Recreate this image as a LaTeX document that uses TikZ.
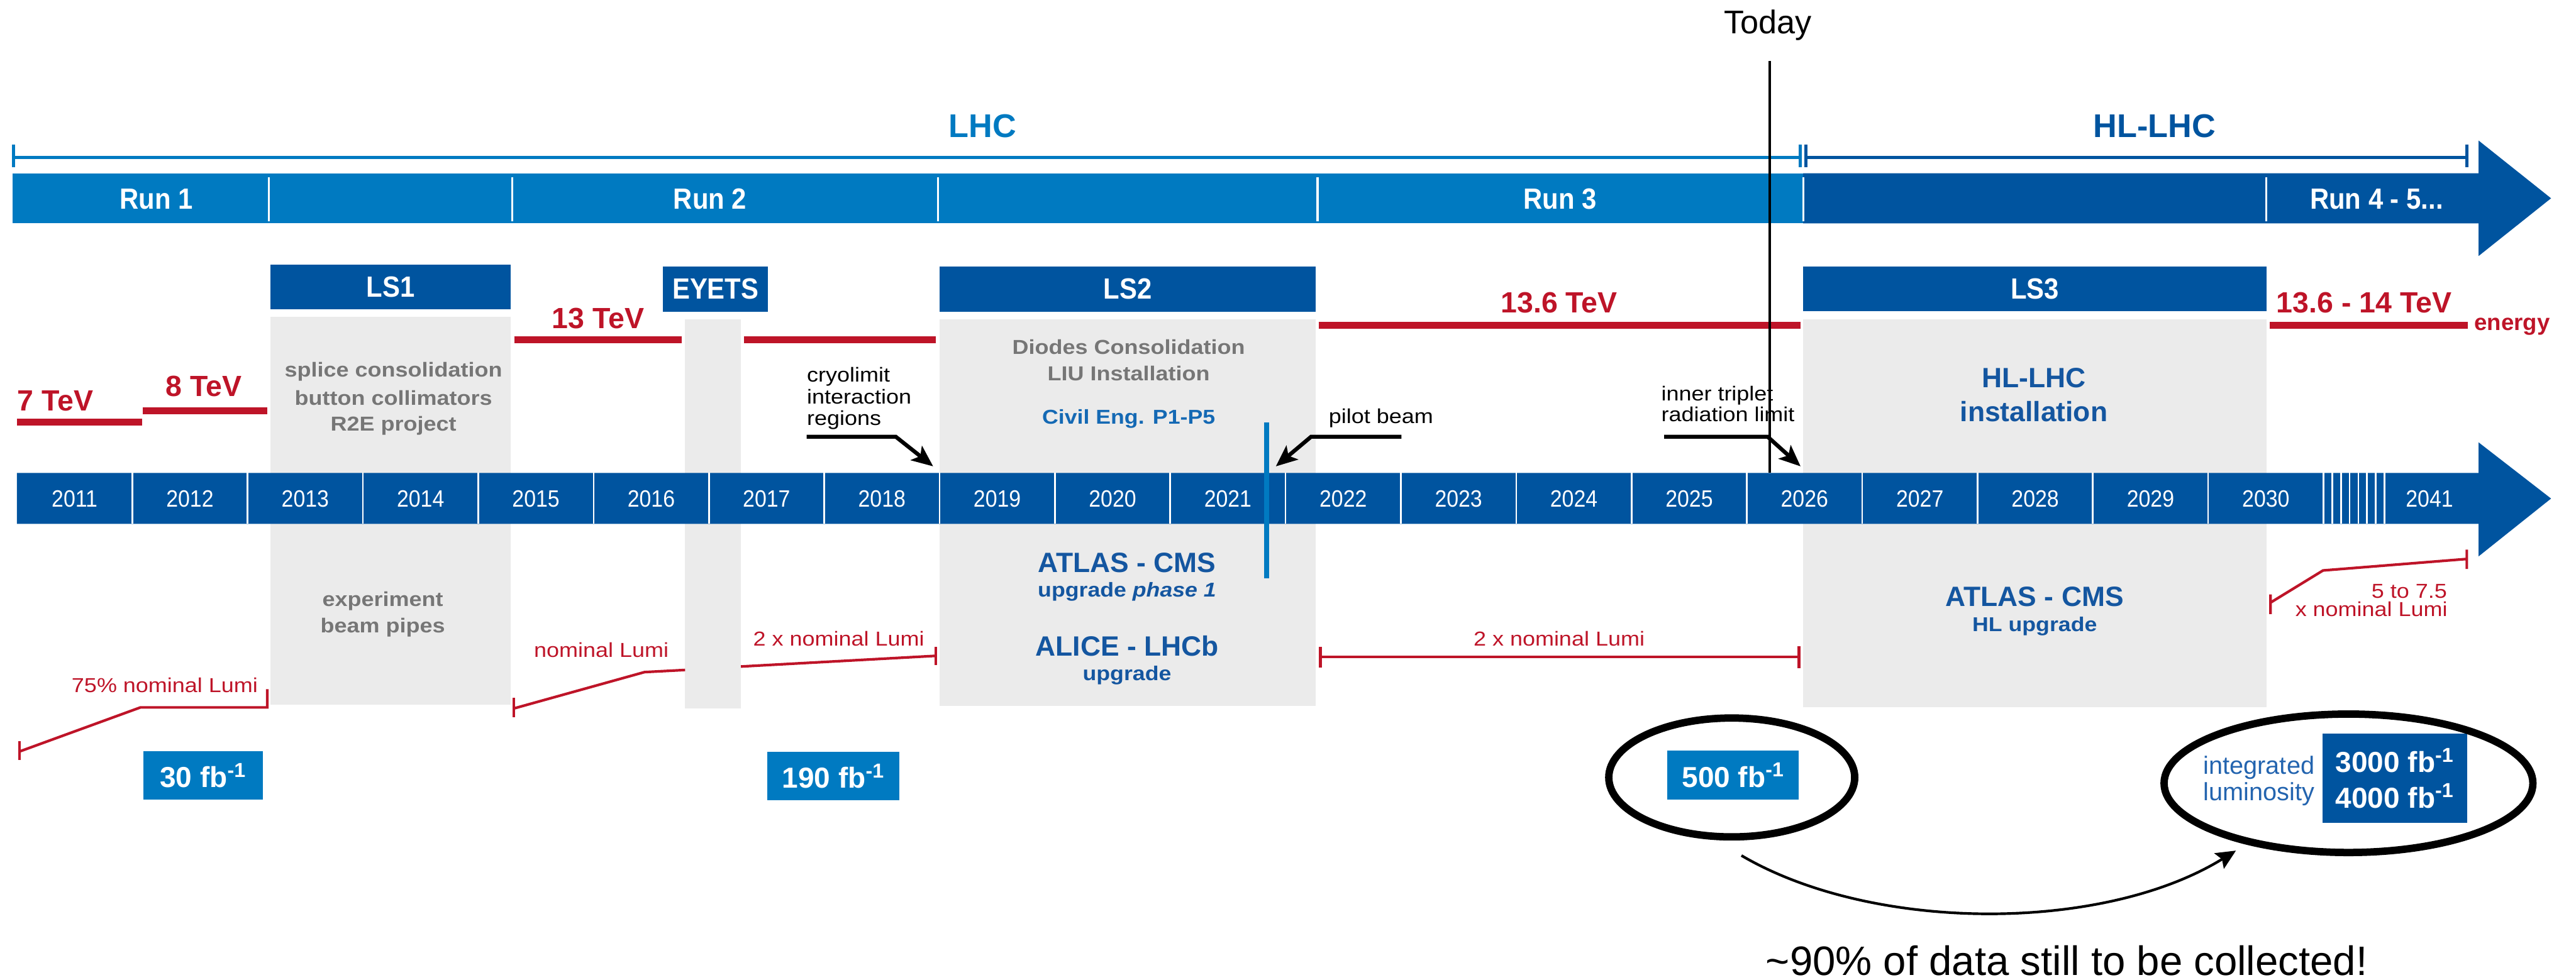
\documentclass[tikz,border=0pt]{standalone}
\usepackage{fontspec}
\setmainfont{Liberation Sans}
\newfontfamily\narrowsans[FakeStretch=0.9]{Liberation Sans}
\newfontfamily\widesans[FakeStretch=1.12]{Liberation Sans}
\usetikzlibrary{arrows.meta,shapes.geometric}
\definecolor{lhcblue}{RGB}{0,122,193}
\definecolor{hlblue}{RGB}{0,84,159}
\definecolor{lhcred}{RGB}{190,20,40}
\definecolor{lsgray}{RGB}{235,235,235}
\definecolor{notegray}{RGB}{118,118,118}
\definecolor{textblue}{RGB}{20,86,160}
\definecolor{civblue}{RGB}{20,105,180}
\definecolor{intblue}{RGB}{35,100,175}
\begin{document}
\begin{tikzpicture}[x=1pt,y=-1pt,
  lhclbl/.style={inner sep=0pt,anchor=base,font=\bfseries\fontsize{20}{24}\selectfont},
  runlbl/.style={text=white,inner sep=0pt,anchor=base,font=\narrowsans\bfseries\fontsize{17.8}{20}\selectfont},
  lsbox/.style={fill=hlblue,text=white,inner sep=0pt,font=\narrowsans\bfseries\fontsize{17.8}{20}\selectfont},
  lsarea/.style={fill=lsgray},
  yearlbl/.style={text=white,inner sep=0pt,anchor=base,font=\narrowsans\fontsize{14.4}{16}\selectfont},
  yeartick/.style={white,line width=1pt},
  tevline/.style={lhcred,line width=4.2pt},
  tevlbl/.style={text=lhcred,inner sep=0pt,anchor=base,font=\bfseries\fontsize{17.8}{20}\selectfont},
  lumiline/.style={lhcred,line width=1.6pt},
  lumilbl/.style={text=lhcred,inner sep=0pt,anchor=base,font=\widesans\fontsize{12.3}{14}\selectfont},
  notelbl/.style={text=notegray,inner sep=0pt,anchor=base,font=\widesans\bfseries\fontsize{12.3}{14}\selectfont},
  exptitle/.style={text=textblue,inner sep=0pt,anchor=base,font=\bfseries\fontsize{17}{20}\selectfont},
  expsub/.style={text=textblue,inner sep=0pt,anchor=base,font=\widesans\bfseries\fontsize{12.2}{14}\selectfont},
  remarklbl/.style={inner sep=0pt,anchor=base west,font=\widesans\fontsize{12.3}{14}\selectfont},
  intlbl/.style={text=intblue,inner sep=0pt,anchor=base,font=\fontsize{15.2}{17}\selectfont},
  leaderarrow/.style={line width=2.4pt,-{Stealth[length=13pt,width=11pt,inset=3pt]}},
  fbbox/.style={fill=lhcblue,text=white,inner sep=0pt,align=center,font=\bfseries\fontsize{17.6}{21.7}\selectfont},
  ringmark/.style={ellipse,draw,line width=4.5pt,inner sep=0pt},
  gainarrow/.style={line width=1.6pt,-{Stealth[length=12pt,width=11pt,inset=2pt]}}]
% LHC / HL-LHC schedule, 1pt per unit, y runs downwards
\def\invfb{fb\textsuperscript{-1}}
\useasboundingbox (0,0) rectangle (1568,596.5);
% machine brackets
\draw[lhcblue,line width=2pt] (8.2,88) -- (8.2,102) (8.2,95.8) -- (1095.9,95.8)
 (1095.9,88) -- (1095.9,102);
\draw[hlblue,line width=2pt] (1099.2,88) -- (1099.2,102) (1099.2,95.8) -- (1501.5,95.8)
 (1501.5,88) -- (1501.5,102);
\node[lhclbl,text=lhcblue] (lhc) at (598,83.5) {LHC};
\node[lhclbl,text=hlblue] (hllhc) at (1311.5,83.5) {HL-LHC};
% runs
\fill[lhcblue] (7.6,105.5) rectangle (1097.6,136);
\fill[hlblue] (1097.6,105.5) -- (1508.7,105.5) -- (1508.7,85.6) -- (1552.8,120.75)
 -- (1508.7,155.9) -- (1508.7,136) -- (1097.6,136) -- cycle;
\draw[white,line width=1.2pt] (163.6,107.8) -- (163.6,134.7) (311.8,107.8) -- (311.8,134.7)
 (571,107.8) -- (571,134.7) (802,107.8) -- (802,134.7)
 (1097.6,107.8) -- (1097.6,134.7) (1379.5,107.8) -- (1379.5,134.7);
\node[runlbl] (runone) at (95.1,127.3) {Run 1};
\node[runlbl] (runtwo) at (432.2,127.3) {Run 2};
\node[runlbl] (runthree) at (949.7,127.3) {Run 3};
\node[runlbl] (runfour) at (1446.6,127.3) {Run 4 - 5...};
% shutdowns
\fill[lsarea] (164.7,193) rectangle (311,429);
\fill[lsarea] (417,194.6) rectangle (451,431.4);
\fill[lsarea] (572,194.6) rectangle (801,430);
\fill[lsarea] (1097.6,194.6) rectangle (1379.5,430.8);
\node[lsbox,minimum width=146.3pt,minimum height=27.2pt] (lsone) at (237.85,174.6) {LS1};
\node[lsbox,minimum width=63.9pt,minimum height=27.3pt] (eyets) at (435.55,176.05) {EYETS};
\node[lsbox,minimum width=229pt,minimum height=27.3pt] (lstwo) at (686.5,176.05) {LS2};
\node[lsbox,minimum width=281.9pt,minimum height=27pt] (lsthree) at (1238.55,175.9) {LS3};
% energy
\draw[tevline] (10.3,257) -- (86.6,257);
\draw[tevline] (87,250) -- (162.6,250);
\draw[tevline] (313,207) -- (415,207);
\draw[tevline] (453,207) -- (569.6,207);
\draw[tevline] (802.6,198) -- (1096,198);
\draw[tevline] (1381.6,198) -- (1502,198);
\node[tevlbl,anchor=base west] (tevseven) at (10.3,250.3) {7 TeV};
\node[tevlbl] (teveight) at (124.1,241.4) {8 TeV};
\node[tevlbl] (tevthirteen) at (364,200.2) {13 TeV};
\node[tevlbl] (tevrunthree) at (949,190.3) {13.6 TeV};
\node[tevlbl] (tevhl) at (1439,190.3) {13.6 - 14 TeV};
\node[tevlbl,anchor=base west,font=\bfseries\fontsize{14}{16}\selectfont] (energy) at (1506,201) {energy};
% work in the shutdowns
\node[notelbl] (lsonea) at (239.5,229.5) {splice consolidation};
\node[notelbl] (lsoneb) at (239.5,246.9) {button collimators};
\node[notelbl] (lsonec) at (239.5,262.5) {R2E project};
\node[notelbl] (lsoned) at (233,369.2) {experiment};
\node[notelbl] (lsonee) at (233,385.4) {beam pipes};
\node[notelbl] (lstwoa) at (687,215.7) {Diodes Consolidation};
\node[notelbl] (lstwob) at (687,231.9) {LIU Installation};
\node[expsub,text=civblue] (lstwoc) at (687,258.1) {Civil Eng. P1-P5};
\node[exptitle] (lstwoatlas) at (686,348.7) {ATLAS - CMS};
\node[expsub] (lstwoatlassub) at (686,363.5) {upgrade \textit{phase 1}};
\node[exptitle] (lstwoalice) at (686,399.6) {ALICE - LHCb};
\node[expsub] (lstwoalicesub) at (686,414.5) {upgrade};
\node[exptitle] (lsthreehl) at (1238,236) {HL-LHC};
\node[exptitle] (lsthreeinst) at (1238,256.7) {installation};
\node[exptitle] (lsthreeatlas) at (1238.5,369.2) {ATLAS - CMS};
\node[expsub] (lsthreeatlassub) at (1238.5,384.7) {HL upgrade};
% luminosity
\draw[lumiline] (12,451.4) -- (12,463);
\draw[lumiline] (12,457.6) -- (85.5,430.8) -- (162.7,430.8) -- (162.7,419.7);
\draw[lumiline] (312.9,425) -- (312.9,436.8);
\draw[lumiline] (312.9,431.4) -- (392.3,409.3) -- (417,408);
\draw[lumiline] (451,405.9) -- (569.5,399.4);
\draw[lumiline] (569.5,394) -- (569.5,405);
\draw[lumiline] (803.7,394) -- (803.7,406.7) (803.7,400) -- (1095,400)
 (1095,393.4) -- (1095,407);
\draw[lumiline] (1382,362) -- (1382,374) (1382,367) -- (1414,347.4) -- (1501.5,340.4)
 (1501.5,334.7) -- (1501.5,346.5);
\node[lumilbl] (lumirunone) at (100.3,421.7) {75\% nominal Lumi};
\node[lumilbl] (lumiruntwoa) at (366,400.3) {nominal Lumi};
\node[lumilbl] (lumiruntwob) at (510.5,393.4) {2 x nominal Lumi};
\node[lumilbl] (lumirunthree) at (949,393.2) {2 x nominal Lumi};
\node[lumilbl,anchor=base east] (lumihla) at (1489.7,364.2) {5 to 7.5};
\node[lumilbl,anchor=base east] (lumihlb) at (1490,375.5) {x nominal Lumi};
% years
\fill[hlblue] (10.3,288) -- (1508.7,288) -- (1508.7,269.4) -- (1552.8,303.6)
 -- (1508.7,338.8) -- (1508.7,319) -- (10.3,319) -- cycle;
\draw[yeartick] (80.5,288) -- ++(0,31) (150.7,288) -- ++(0,31) (220.9,288) -- ++(0,31)
 (291.1,288) -- ++(0,31) (361.3,288) -- ++(0,31) (431.5,288) -- ++(0,31)
 (501.7,288) -- ++(0,31) (571.9,288) -- ++(0,31) (642.1,288) -- ++(0,31)
 (712.3,288) -- ++(0,31) (782.5,288) -- ++(0,31) (852.7,288) -- ++(0,31)
 (922.9,288) -- ++(0,31) (993.1,288) -- ++(0,31) (1063.3,288) -- ++(0,31)
 (1133.5,288) -- ++(0,31) (1203.7,288) -- ++(0,31) (1273.9,288) -- ++(0,31)
 (1344.1,288) -- ++(0,31) (1414.3,288) -- ++(0,31) (1419.6,288) -- ++(0,31)
 (1424.9,288) -- ++(0,31) (1430.2,288) -- ++(0,31) (1435.5,288) -- ++(0,31)
 (1440.8,288) -- ++(0,31) (1446.1,288) -- ++(0,31) (1451.4,288) -- ++(0,31);
\node[yearlbl] (y2011) at (45.4,308.7) {2011};
\node[yearlbl] (y2012) at (115.6,308.7) {2012};
\node[yearlbl] (y2013) at (185.8,308.7) {2013};
\node[yearlbl] (y2014) at (256,308.7) {2014};
\node[yearlbl] (y2015) at (326.2,308.7) {2015};
\node[yearlbl] (y2016) at (396.4,308.7) {2016};
\node[yearlbl] (y2017) at (466.6,308.7) {2017};
\node[yearlbl] (y2018) at (536.8,308.7) {2018};
\node[yearlbl] (y2019) at (607,308.7) {2019};
\node[yearlbl] (y2020) at (677.2,308.7) {2020};
\node[yearlbl] (y2021) at (747.4,308.7) {2021};
\node[yearlbl] (y2022) at (817.6,308.7) {2022};
\node[yearlbl] (y2023) at (887.8,308.7) {2023};
\node[yearlbl] (y2024) at (958,308.7) {2024};
\node[yearlbl] (y2025) at (1028.2,308.7) {2025};
\node[yearlbl] (y2026) at (1098.4,308.7) {2026};
\node[yearlbl] (y2027) at (1168.6,308.7) {2027};
\node[yearlbl] (y2028) at (1238.8,308.7) {2028};
\node[yearlbl] (y2029) at (1309,308.7) {2029};
\node[yearlbl] (y2030) at (1379.2,308.7) {2030};
\node[yearlbl] (y2041) at (1478.8,308.7) {2041};
\draw[lhcblue,line width=3pt] (771,257.4) -- (771,352);
% remarks with leaders
\node[remarklbl] (cryoa) at (491,232.7) {cryolimit};
\node[remarklbl] (cryob) at (491,245.8) {interaction};
\node[remarklbl] (cryoc) at (491,258.8) {regions};
\node[remarklbl] (pilot) at (808.6,258) {pilot beam};
\node[remarklbl] (tripleta) at (1011,243.9) {inner triplet};
\node[remarklbl] (tripletb) at (1011,256.7) {radiation limit};
\coordinate (cryofoot) at (491,266);
\coordinate (cryoknee) at (545.3,266);
\coordinate (cryotip) at (568,284);
\coordinate (pilotfoot) at (853,266);
\coordinate (pilotknee) at (798,266);
\coordinate (pilottip) at (776.6,284);
\coordinate (tripletfoot) at (1013,266);
\coordinate (tripletknee) at (1076,266);
\coordinate (triplettip) at (1096,284);
\draw[leaderarrow] (cryofoot) -- (cryoknee) -- (cryotip);
\draw[leaderarrow] (pilotfoot) -- (pilotknee) -- (pilottip);
\draw[leaderarrow] (tripletfoot) -- (tripletknee) -- (triplettip);
% integrated luminosity
\node[fbbox,minimum width=72.7pt,minimum height=29.4pt] (fbrunone) at (123.65,472.3) {30 \invfb};
\node[fbbox,minimum width=80.6pt,minimum height=29.5pt] (fbruntwo) at (507.3,472.75) {190 \invfb};
\node[fbbox,minimum width=80pt,minimum height=30pt] (fbnow) at (1055,472) {500 \invfb};
\node[fbbox,fill=hlblue,minimum width=88.2pt,minimum height=54.4pt] (fbhl) at (1457.7,473.8)
 {3000 \invfb\\4000 \invfb};
\node[intlbl] (intluma) at (1375,471.4) {integrated};
\node[intlbl] (intlumb) at (1375,487.6) {luminosity};
\node[ringmark,minimum width=149.7pt,minimum height=72.4pt] (ringnow) at (1054.1,473.45) {};
\node[ringmark,minimum width=224.5pt,minimum height=84.3pt] (ringhl) at (1429.5,477) {};
\coordinate (gainfrom) at (1060,521);
\coordinate (gainto) at (1361,518);
\draw[gainarrow] (gainfrom) .. controls (1140,568) and (1280,568) .. (gainto);
\node[anchor=base,inner sep=0pt,font=\fontsize{25}{30}\selectfont] (gaintext) at (1258,594)
 {\textasciitilde90\% of data still to be collected!};
% today
\node[anchor=base,inner sep=0pt,font=\fontsize{20}{24}\selectfont] (today) at (1076,20.5) {Today};
\coordinate (todaytop) at (1077.3,37);
\coordinate (todaybot) at (1077.3,288);
\draw[line width=1.5pt] (todaytop) -- (todaybot);
\end{tikzpicture}
\end{document}
